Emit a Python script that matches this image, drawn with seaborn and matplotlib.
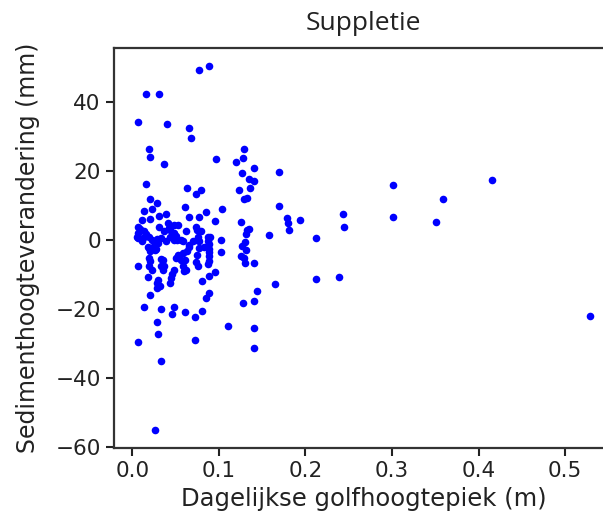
import numpy as np
import pandas as pd
import matplotlib
matplotlib.use("Agg")
import matplotlib.pyplot as plt
import seaborn as sns

# daily wave height peak (m) and sediment height change (mm)
golfhoogte = [
    0.077, 0.089, 0.016, 0.031, 0.006, 0.040, 0.066, 0.068, 0.019, 0.021,
    0.037, 0.097, 0.129, 0.128, 0.120, 0.140, 0.170, 0.127, 0.135, 0.141,
    0.136, 0.123, 0.132, 0.129, 0.079, 0.170, 0.085, 0.104, 0.077, 0.096,
    0.126, 0.179, 0.180, 0.181, 0.194, 0.243, 0.244, 0.212, 0.158, 0.135,
    0.133, 0.131, 0.090, 0.103, 0.089, 0.088, 0.089, 0.089, 0.088, 0.087,
    0.102, 0.127, 0.130, 0.131, 0.126, 0.130, 0.129, 0.141, 0.096, 0.088,
    0.080, 0.165, 0.212, 0.239, 0.144, 0.088, 0.085, 0.080, 0.128, 0.140,
    0.110, 0.140, 0.140, 0.301, 0.416, 0.359, 0.301, 0.351, 0.529, 0.016,
    0.063, 0.073, 0.021, 0.029, 0.023, 0.014, 0.061, 0.039, 0.031, 0.021,
    0.011, 0.066, 0.014, 0.033, 0.048, 0.046, 0.061, 0.072, 0.029, 0.030,
    0.006, 0.072, 0.033, 0.026, 0.021,
    0.041, 0.048, 0.053, 0.006, 0.009, 0.007, 0.014, 0.005, 0.031, 0.037,
    0.044, 0.048, 0.062, 0.073, 0.075, 0.012, 0.019, 0.023, 0.027, 0.039,
    0.048, 0.056, 0.076, 0.077, 0.018, 0.025, 0.021, 0.027, 0.065, 0.063,
    0.058, 0.054, 0.051, 0.056, 0.061, 0.019, 0.021, 0.019, 0.023, 0.033,
    0.036, 0.033, 0.037, 0.035, 0.048, 0.059, 0.062, 0.074, 0.076, 0.018,
    0.030, 0.028, 0.032, 0.029, 0.045, 0.044, 0.046, 0.006,
    0.007, 0.011, 0.028, 0.030, 0.019, 0.026, 0.052, 0.058, 0.065, 0.070,
    0.075, 0.083, 0.087, 0.016, 0.033, 0.044, 0.050, 0.079, 0.087, 0.042,
    0.060, 0.075, 0.077, 0.053,
]
sediment = [
    49.3, 50.4, 42.4, 42.4, 34.3, 33.7, 32.4, 29.5, 26.4, 24.1,
    22.0, 23.6, 26.3, 23.9, 22.6, 20.8, 19.8, 19.4, 17.6, 17.1,
    15.2, 14.4, 12.3, 12.0, 14.6, 9.8, 8.1, 8.9, 6.7, 5.5,
    5.1, 6.3, 4.9, 2.8, 5.7, 7.5, 3.9, 0.7, 1.6, 3.2,
    2.8, 1.7, 1.0, 0.1, -1.2, -2.5, -3.6, -4.7, -6.2, -7.1,
    -3.4, -1.6, -0.7, -3.0, -4.7, -6.7, -5.2, -6.6, -9.4, -10.5,
    -12.0, -12.7, -11.2, -10.8, -14.9, -15.3, -16.8, -20.5, -18.3, -17.8,
    -25.0, -25.4, -31.3, 15.9, 17.5, 12.0, 6.7, 5.3, -22.1, 16.2,
    15.0, 13.4, 11.9, 10.7, 9.0, 8.5, 9.6, 7.5, 7.0, 6.1,
    5.7, 6.8, -19.4, -20.0, -19.4, -21.6, -20.8, -22.4, -23.8, -27.3,
    -29.6, -28.9, -35.1, -55.1, -16.1,
    4.9, 4.4, 4.4, 3.9, 3.2, 2.0, 2.5, 1.0, 3.8, 2.7,
    3.0, 2.0, 2.5, 3.9, 2.8, 0.6, 1.0, -0.1, -0.4, -0.4,
    -0.1, 0.1, 1.0, -0.4, -1.9, -1.6, -3.3, -2.6, -1.9, -3.3,
    -3.8, -4.5, -5.2, -5.7, -5.7, -5.2, -6.2, -7.6, -8.6, -5.5,
    -5.7, -7.4, -7.6, -8.8, -8.6, -7.6, -8.6, -6.5, -7.6, -10.7,
    -11.5, -12.4, -13.4, -13.9, -11.0, -12.4, -9.8, -7.6,
    0.6, -0.2, 0.2, -0.9, -2.3, -2.8, 0.1, -0.2, -1.4, -0.4,
    0.1, -1.9, -0.4, 1.8, 0.6, 1.0, 1.2, 2.5, 1.0, 3.5,
    -9.1, -4.3, -2.3, -4.3,
]

df = pd.DataFrame({"golfhoogte": golfhoogte, "sediment": sediment})

sns.set_style("ticks")
plt.rcParams["font.family"] = ["DejaVu Sans"]

fig = plt.figure(figsize=(6.03, 5.24), dpi=100)
ax = fig.add_axes([0.189, 0.145, 0.8275, 0.763])

sns.scatterplot(data=df, x="golfhoogte", y="sediment", ax=ax,
                color="#0000ff", s=30, linewidth=0)

ax.set_xticks([0.0, 0.1, 0.2, 0.3, 0.4, 0.5])
ax.set_yticks([-60, -40, -20, 0, 20, 40])
ax.set_xlabel("Dagelijkse golfhoogtepiek (m)", fontsize=17.5, color="#222222",
              labelpad=4)
ax.set_ylabel("Sedimenthoogteverandering (mm)", fontsize=17, color="#222222",
              labelpad=11)
ax.set_title("Suppletie", fontsize=19, family=["Open Sans", "DejaVu Sans"],
             color="#222222", pad=13)
ax.tick_params(labelsize=15.5, length=6, width=1.5, colors="#222222")
for side in ax.spines.values():
    side.set_linewidth(1.6)
    side.set_color("#333333")

fig.savefig("out.png", dpi=100)
